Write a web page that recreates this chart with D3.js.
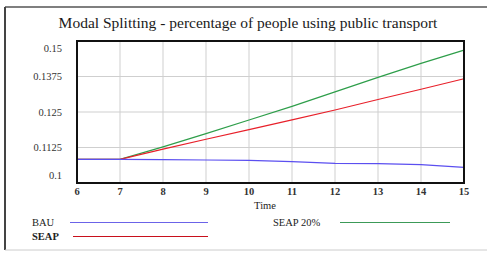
<!DOCTYPE html>
<html>
<head>
<meta charset="utf-8">
<script src="https://cdn.jsdelivr.net/npm/d3@7"></script>
<style>
  body { margin: 0; background: #fff; }
  .grid line { stroke: #cfcfcf; stroke-width: 1; }
  text { font-family: "Liberation Serif", "Times New Roman", serif; }
</style>
</head>
<body>
<svg id="chart" width="487" height="253"></svg>
<script>
const title = 'Modal Splitting - percentage of people using public transport'
const times = [6, 7, 8, 9, 10, 11, 12, 13, 14, 15]
const bau = [0.1083, 0.1083, 0.1082, 0.1081, 0.1080, 0.1075, 0.1069, 0.1068, 0.1065, 0.1055]
const seap = [0.1083, 0.1083, 0.1119, 0.1154, 0.1188, 0.1222, 0.1257, 0.1294, 0.1330, 0.1367]
const seap20 = [0.1083, 0.1083, 0.1127, 0.1174, 0.1222, 0.1270, 0.1321, 0.1372, 0.1421, 0.1468]
const yTicks = [0.1, 0.1125, 0.125, 0.1375, 0.15]
const xTicks = [6, 7, 8, 9, 10, 11, 12, 13, 14, 15]

const svg = d3.select('#chart')
    , plotLeft = 77, plotRight = 464, plotTop = 41, plotBottom = 183
    , x = d3.scaleLinear().domain([6, 15]).range([plotLeft, plotRight])
    , y = d3.scaleLinear().domain([0.1, 0.15]).range([plotBottom, plotTop])

// outer frame
svg.append('line').attr('x1', 5).attr('x2', 487).attr('y1', 7).attr('y2', 7)
    .attr('stroke', '#555').attr('stroke-width', 1.5)
svg.append('line').attr('x1', 5).attr('x2', 5).attr('y1', 7).attr('y2', 250)
    .attr('stroke', '#444').attr('stroke-width', 2)
svg.append('line').attr('x1', 5).attr('x2', 487).attr('y1', 250).attr('y2', 250)
    .attr('stroke', '#ccc').attr('stroke-width', 1)

svg.append('text')
    .attr('x', 248).attr('y', 28)
    .attr('text-anchor', 'middle')
    .attr('font-size', 15.5)
    .attr('fill', '#1a1a1a')
    .text(title)

// grid
const grid = svg.append('g').attr('class', 'grid')
grid.selectAll('line.gx').data(xTicks.slice(1, -1)).join('line')
    .attr('x1', x).attr('x2', x).attr('y1', plotTop).attr('y2', plotBottom)
grid.selectAll('line.gy').data(yTicks.slice(1, -1)).join('line')
    .attr('x1', plotLeft).attr('x2', plotRight).attr('y1', y).attr('y2', y)

// y labels (kept inside the frame like the original)
svg.selectAll('text.ylab').data(yTicks).join('text')
    .attr('class', 'ylab')
    .attr('x', 62)
    .attr('y', d => Math.min(Math.max(y(d), plotTop + 7), plotBottom - 8) + 3.5)
    .attr('text-anchor', 'end')
    .attr('font-size', 10.5)
    .attr('fill', '#333')
    .text(d => d)

svg.selectAll('text.xlab').data(xTicks).join('text')
    .attr('class', 'xlab')
    .attr('x', x)
    .attr('y', 195)
    .attr('text-anchor', 'middle')
    .attr('font-size', 10.5)
    .attr('font-weight', 'bold')
    .attr('fill', '#333')
    .text(d => d)

svg.append('text')
    .attr('x', 265).attr('y', 209)
    .attr('text-anchor', 'middle')
    .attr('font-size', 10.5)
    .attr('fill', '#222')
    .text('Time')

// series
const line = d3.line().x((d, i) => x(times[i])).y(d => y(d))
const series = [
    { name: 'SEAP 20%', values: seap20, color: '#2e9e4a' },
    { name: 'SEAP', values: seap, color: '#e8202a' },
    { name: 'BAU', values: bau, color: '#5b4ff0' }
]
svg.selectAll('path.series').data(series).join('path')
    .attr('class', 'series')
    .attr('d', d => line(d.values))
    .attr('fill', 'none')
    .attr('stroke', d => d.color)
    .attr('stroke-width', 1.2)

// plot frame
svg.append('rect')
    .attr('x', plotLeft).attr('y', plotTop)
    .attr('width', plotRight - plotLeft).attr('height', plotBottom - plotTop)
    .attr('fill', 'none').attr('stroke', '#111').attr('stroke-width', 2)

// legend
const legend = [
    { name: 'BAU', color: '#6b63e8', tx: 32, ty: 226, x1: 70, x2: 208, bold: false },
    { name: 'SEAP', color: '#c8101c', tx: 32, ty: 240, x1: 73, x2: 208, bold: true },
    { name: 'SEAP 20%', color: '#3c9a58', tx: 273, ty: 226, x1: 340, x2: 450, bold: false }
]
const lg = svg.selectAll('g.legend').data(legend).join('g').attr('class', 'legend')
lg.append('text')
    .attr('x', d => d.tx).attr('y', d => d.ty)
    .attr('font-size', 10.5)
    .attr('font-weight', d => d.bold ? 'bold' : 'normal')
    .attr('fill', '#222')
    .text(d => d.name)
lg.append('line')
    .attr('x1', d => d.x1).attr('x2', d => d.x2)
    .attr('y1', d => d.ty - 3.5).attr('y2', d => d.ty - 3.5)
    .attr('stroke', d => d.color).attr('stroke-width', 1.2)
</script>
</body>
</html>
